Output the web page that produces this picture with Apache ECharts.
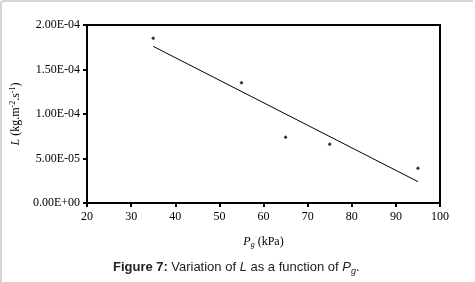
<!DOCTYPE html>
<html>
<head>
<meta charset="utf-8">
<script src="https://cdn.jsdelivr.net/npm/echarts@6/dist/echarts.min.js"></script>
<style>
  html, body { margin: 0; padding: 0; background: #fff; }
  #frame {
    position: absolute; left: 0; top: 0; width: 473px; height: 282px;
    border-top: 2px solid #d4d4d4; border-left: 2px solid #d4d4d4;
    border-top-left-radius: 4px; box-sizing: border-box;
  }
  #chart { position: absolute; left: 0; top: 0; width: 475px; height: 282px; }
</style>
</head>
<body>
<div id="frame"></div>
<div id="chart"></div>
<script>
// data
const pressure = [35, 55, 65, 75, 95];               // Pg (kPa)
const flux = [1.85e-4, 1.35e-4, 0.74e-4, 0.66e-4, 0.39e-4]; // L (kg.m-2.s-1)
const trendX = [35, 95];
const trendY = [1.76e-4, 0.24e-4];
const xTicks = [20, 30, 40, 50, 60, 70, 80, 90, 100];
const yTicks = [0, 5e-5, 1e-4, 1.5e-4, 2e-4];

const serif = '"Liberation Serif", "Times New Roman", serif';
const sans = '"Liberation Sans", Arial, sans-serif';

function sci(v) {
  // 2.00E-04 style labels
  const [m, e] = v.toExponential(2).toUpperCase().split('E');
  const n = parseInt(e, 10);
  const sign = n < 0 ? '-' : '+';
  return m + 'E' + sign + String(Math.abs(n)).padStart(2, '0');
}

const chart = echarts.init(document.getElementById('chart'));

const option = {
  animation: false,
  grid: {
    left: 87, right: 35, top: 25, bottom: 79,
    show: true, borderColor: '#000', borderWidth: 2
  },
  xAxis: {
    type: 'value',
    min: xTicks[0],
    max: xTicks[xTicks.length - 1],
    interval: 10,
    axisLine: { lineStyle: { color: '#000', width: 2 } },
    axisTick: { inside: false, length: 4, lineStyle: { color: '#000', width: 2 } },
    splitLine: { show: false },
    axisLabel: { color: '#000', fontFamily: serif, fontSize: 12, margin: 8 },
    name: '{i|P}{sub|g} {n|(kPa)}',
    nameLocation: 'middle',
    nameGap: 31,
    nameTextStyle: {
      fontFamily: serif, fontSize: 12, color: '#000',
      rich: {
        i: { fontFamily: serif, fontSize: 12, fontStyle: 'italic', color: '#000', lineHeight: 15 },
        sub: { fontFamily: serif, fontSize: 8, fontStyle: 'italic', color: '#000', verticalAlign: 'bottom', lineHeight: 15 },
        n: { fontFamily: serif, fontSize: 12, color: '#000', lineHeight: 15 }
      }
    }
  },
  yAxis: {
    type: 'value',
    min: yTicks[0],
    max: yTicks[yTicks.length - 1],
    interval: 5e-5,
    axisLine: { show: true, lineStyle: { color: '#000', width: 2 } },
    axisTick: { show: true, length: 4, lineStyle: { color: '#000', width: 2 } },
    splitLine: { show: false },
    axisLabel: { color: '#000', fontFamily: serif, fontSize: 12, margin: 7, formatter: sci },
    name: '{i|L} {n|(kg.m}{sup|-2}{n|.s}{sup|-1}{n|)}',
    nameLocation: 'middle',
    nameRotate: 90,
    nameGap: 61,
    nameTextStyle: {
      fontFamily: serif, fontSize: 12, color: '#000',
      rich: {
        i: { fontFamily: serif, fontSize: 12, fontStyle: 'italic', color: '#000', lineHeight: 15 },
        sup: { fontFamily: serif, fontSize: 8, color: '#000', verticalAlign: 'top', lineHeight: 15 },
        n: { fontFamily: serif, fontSize: 12, color: '#000', lineHeight: 15 }
      }
    }
  },
  graphic: [{
    type: 'text',
    left: 113,
    top: 261,
    style: {
      text: '{b|Figure 7:} {t|Variation of }{i|L}{t| as a function of }{i|P}{sub|g}{t|.}',
      rich: {
        b: { fontFamily: sans, fontSize: 13, fontWeight: 'bold', fill: '#222', lineHeight: 16 },
        t: { fontFamily: sans, fontSize: 13, fill: '#222', lineHeight: 16 },
        i: { fontFamily: sans, fontSize: 13, fontStyle: 'italic', fill: '#222', lineHeight: 16 },
        sub: { fontFamily: sans, fontSize: 9, fontStyle: 'italic', fill: '#222', verticalAlign: 'bottom', lineHeight: 16 }
      }
    }
  }],
  series: [
    {
      type: 'scatter',
      data: pressure.map((p, i) => [p, flux[i]]),
      symbol: 'diamond',
      symbolSize: 4,
      itemStyle: { color: '#000' }
    },
    {
      type: 'line',
      data: trendX.map((p, i) => [p, trendY[i]]),
      showSymbol: false,
      lineStyle: { color: '#000', width: 1 }
    }
  ]
};

chart.setOption(option);
</script>
</body>
</html>
